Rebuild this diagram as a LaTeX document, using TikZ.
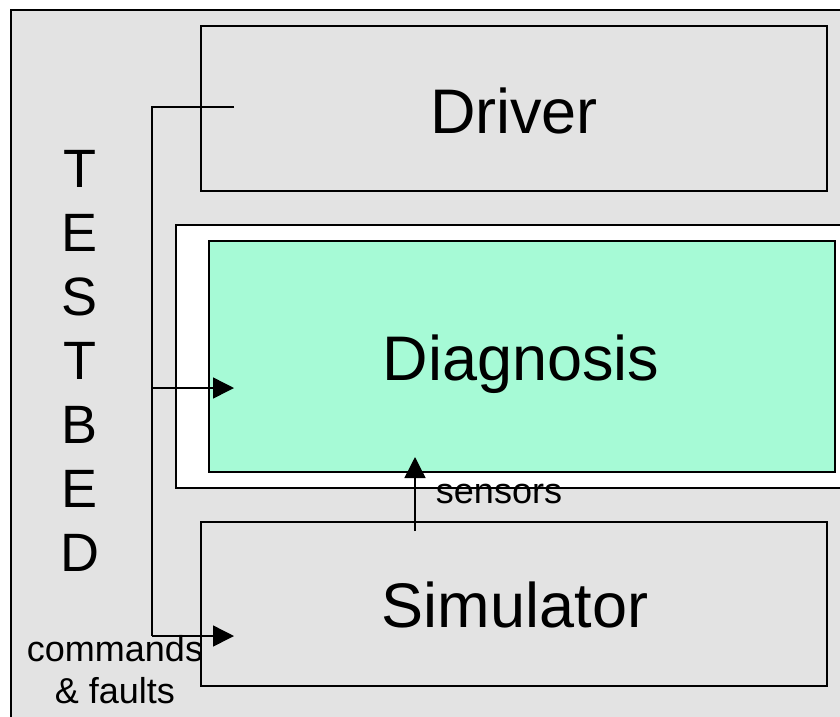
\documentclass[tikz,border=0pt]{standalone}
\usepackage{fontspec}
\setmainfont{Liberation Sans}
\usetikzlibrary{arrows.meta}
\definecolor{bggray}{RGB}{227,227,227}
\definecolor{diaggreen}{RGB}{166,250,214}
\begin{document}
\begin{tikzpicture}[x=1pt,y=-1pt,
  box/.style={draw=black,line width=1.6pt,inner sep=0pt,anchor=north west},
  wire/.style={draw=black,line width=1.5pt},
  arr/.style={wire,-{Triangle[length=21pt,width=21pt]}},
  big/.style={font=\fontsize{63}{63}\selectfont,anchor=base,inner sep=0pt},
  tb/.style={font=\fontsize{54}{54}\selectfont,anchor=base,inner sep=0pt},
  small/.style={font=\fontsize{36}{36}\selectfont,anchor=base,inner sep=0pt}]
\useasboundingbox (0,0) rectangle (840,716);
\clip (0,0) rectangle (840,716);
\fill[white] (0,0) rectangle (840,716);
% outer testbed box
\node[box,fill=bggray,minimum width=850pt,minimum height=730pt] (testbed) at (10,9) {};
% boxes
\node[box,fill=bggray,minimum width=626pt,minimum height=165pt] (driver) at (200,25) {};
\node[box,fill=white,minimum width=700pt,minimum height=263pt] (diagframe) at (175,224) {};
\node[box,fill=diaggreen,minimum width=626pt,minimum height=231pt] (diag) at (208,240) {};
\node[box,fill=bggray,minimum width=626pt,minimum height=164pt] (sim) at (200,521) {};
% labels
\node[big] (driverlbl) at (514,133) {Driver};
\node[big] (diaglbl) at (521,380) {Diagnosis};
\node[big] (simlbl) at (515,627) {Simulator};
\foreach \l/\y [count=\i] in {T/187,E/251,S/315,T/379,B/443,E/507,D/571}
  \node[tb] (tb\i) at (80,\y) {\l};
\node[small] (cmd) at (115,661) {commands};
\node[small] (flt) at (115,703) {\&\ faults};
\node[small] (sens) at (499,503) {sensors};
% wires
\coordinate (dout) at (234,107);
\coordinate (wtop) at (152,107);
\coordinate (wmid) at (152,388);
\coordinate (wbot) at (152,636);
\coordinate (diagin) at (234,388);
\coordinate (simin) at (234,636);
\draw[wire] (dout) -- (wtop) -- (wbot);
\draw[arr] (wmid) -- (diagin);
\draw[arr] (wbot) -- (simin);
\coordinate (sensout) at (415,531);
\coordinate (sensin) at (415,457);
\draw[arr] (sensout) -- (sensin);
\end{tikzpicture}
\end{document}
